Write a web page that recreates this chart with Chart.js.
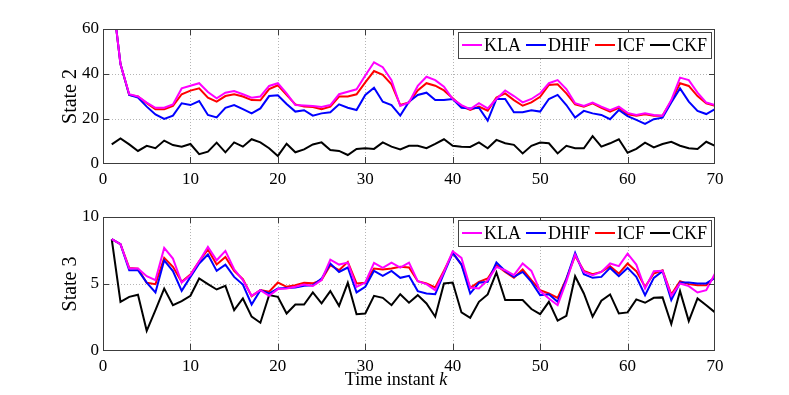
<!DOCTYPE html>
<html>
<head>
<meta charset="utf-8">
<script src="https://cdn.jsdelivr.net/npm/chart.js@4.4.1/dist/chart.umd.min.js"></script>
<style>
  html, body { margin: 0; padding: 0; background: #fff; }
  #wrap { position: relative; width: 789px; height: 395px; overflow: hidden; }
  #c1 { position: absolute; left: 0; top: 0; }
  #c2 { position: absolute; left: 0; top: 197px; }
</style>
</head>
<body>
<div id="wrap">
  <canvas id="c1" width="789" height="197"></canvas>
  <canvas id="c2" width="789" height="198"></canvas>
</div>
<script>
// ---------- data ----------
const timeInstants = Array.from({length: 70}, (_, i) => i + 1);
const seriesNames = ['KLA', 'DHIF', 'ICF', 'CKF'];
const xTicks = [0, 10, 20, 30, 40, 50, 60, 70];
const yTicksState2 = [0, 20, 40, 60];
const yTicksState3 = [0, 5, 10];

const klaState2 = [77,44.4,31,30,27.3,25,25,26.5,33.6,34.8,35.9,32,29.2,31.7,32.4,31,29.5,30,34.7,35.9,
  31.4,26.2,26,25.8,25.3,26.2,31,32.1,33.2,39.3,45.2,43,37.3,25.8,27.4,34.7,38.8,37.3,34.4,28.9,
  26.2,24.4,27,24.7,28.9,32.7,30.2,27.4,28.9,31.4,35.9,37.3,33.3,27,25.8,27.3,25.5,23.9,25.5,22.7,
  21.8,22.5,21.8,21.5,28.4,38.4,37.3,31.7,27.3,26.2];
const dhifState2 = [77,44.4,30.7,29.5,25.5,22,20,21.5,27,26.2,28,21.8,20.7,25,26.2,24.4,22.5,24.7,30.2,30.5,
  26.7,23.3,23.9,21.5,22.5,23,26.5,25,24,30.7,33.9,27.7,26.2,21.5,27.7,30.7,31.7,28.4,28.4,28.9,
  25,24.7,25,19.3,28.9,28.9,23,23,23.9,23.3,28.9,30.7,26.2,20.6,23.6,22.5,21.8,19.9,24,21.3,
  19.6,17.8,19.9,20.6,27.3,33.6,27.7,23.6,22.2,24.4];
const icfState2 = [77,44.4,30.7,30,27,24.3,24.3,25.8,31,32.6,33.6,29.5,27.7,30.2,31,30,28.4,28.3,33.3,35,
  30.7,26.5,25.5,25.3,24.4,25.5,30,30,31,36.3,41.3,39.6,35.4,26.2,27.4,32.7,35.9,34.8,32.7,29.2,
  25.8,24,25.5,23.7,29.5,31.4,28.4,25.9,27.4,29.9,35.1,35.4,31.4,26.5,25.5,27,25,23.3,25,22.1,
  21.5,22.1,21.5,21.5,28,35.9,34.7,30.2,27,25.9];
const ckfState2 = [8.7,11.4,8.7,5.8,8.1,7,10.4,8.4,7.7,8.9,4.4,5.5,9.5,5.2,9.6,7.7,11,9.6,7,3.6,
  9,5.2,6.5,8.7,9.6,6.2,5.8,4,6.7,7,6.7,9.6,7.7,6.5,8.1,8.1,7,8.9,11,8.1,
  7.7,7.6,9.6,7,10.7,9.2,8.5,4.7,8.1,9.5,9.2,4.7,8.1,7,7,12.4,7.7,9.2,11,5,
  6.7,9.5,7.4,8.9,9.9,8.1,7,6.7,9.9,8.1];

const klaState3 = [8.34,7.97,6.15,6.15,5.58,5.29,7.69,6.9,5.11,5.66,6.7,7.77,6.77,7.47,6.1,5.29,4.12,4.54,4.12,4.62,
  4.66,4.79,4.96,4.85,5.3,6.82,6.45,6.6,4.79,5.11,6.58,6.2,6.6,6.23,6.6,5.21,4.99,4.54,5.9,7.44,
  6.95,4.74,4.66,5.29,6.28,6.03,5.66,6.53,5.98,4.47,3.92,3.42,5.2,7.2,5.9,5.66,5.9,6.53,6.33,7.27,
  6.45,4.66,5.96,5.98,4.12,5.04,4.84,4.37,4.54,5.78];
const dhifState3 = [8.34,7.97,6.03,6.03,5.1,4.37,6.77,5.96,4.49,5.53,6.53,7.2,5.98,6.45,5.53,4.96,3.47,4.54,4.29,4.66,
  4.71,4.74,4.86,4.9,5.4,6.53,5.9,6.23,4.37,4.79,5.98,5.61,5.98,5.46,5.61,4.47,4.29,4.24,5.8,7.32,
  6.45,4.29,5.09,5.16,6.6,5.98,5.53,5.9,5.16,4.17,4.24,3.67,5.36,7.32,5.73,5.46,5.53,6.2,5.58,6.2,
  5.53,4.17,5.46,5.96,3.8,5.11,5.11,5.04,5.04,5.46];
const icfState3 = [8.34,7.97,6.2,6.15,5.09,4.99,6.95,6.28,5.16,5.71,6.7,7.57,6.45,7.02,5.98,5.36,4.09,4.54,4.42,5.11,
  4.79,4.91,5.09,5.05,5.3,6.4,6.03,6.65,5.04,5.09,6.15,6.08,6.15,6.28,6.23,5.21,5.04,4.74,6.0,7.32,
  6.45,4.71,5.16,5.41,6.4,5.9,5.46,6.08,5.29,4.54,4.29,3.97,5.4,7.1,5.98,5.73,5.9,6.33,5.78,6.53,
  5.96,4.79,5.78,6.03,4.22,5.21,4.99,4.91,4.91,5.53];
const ckfState3 = [8.34,3.67,4.04,4.2,1.51,3.05,4.66,3.42,3.72,4.12,5.41,4.99,4.59,4.86,3.05,3.92,2.56,2.11,4.17,4.04,
  2.8,3.47,3.47,4.37,3.55,4.47,3.37,5.09,2.75,2.8,4.12,3.97,3.42,4.24,3.6,4.17,3.55,2.56,5.04,5.11,
  2.88,2.48,3.67,4.22,5.86,3.8,3.8,3.8,3.13,2.75,3.67,2.26,2.63,5.58,4.29,2.56,3.75,4.22,2.8,2.88,
  3.85,3.6,3.97,4,2.01,4.47,2.23,3.92,3.42,2.88];

// ---------- styling ----------
const COLORS = ['#ff00ff', '#0000ff', '#ff0000', '#000000'];
const SERIF = "'Liberation Serif', 'DejaVu Serif', serif";
const AXIS_COLOR = '#3c3c3c';
const GRID_COLOR = '#b4b4b4';

function toPoints(vals) { return vals.map((v, i) => ({x: timeInstants[i], y: v})); }

function makeDatasets(arrs) {
  return arrs.map((a, i) => ({
    label: seriesNames[i],
    data: toPoints(a),
    borderColor: COLORS[i],
    backgroundColor: COLORS[i],
    borderWidth: 2,
    pointRadius: 0,
    tension: 0,
    fill: false
  }));
}

const framePlugin = {
  id: 'frame',
  beforeDatasetsDraw(chart, args, opts) {
    const ctx = chart.ctx;
    const a = chart.chartArea;
    const xs = chart.scales.x, ys = chart.scales.y;
    const L = Math.round(a.left), R = Math.round(a.right) - 1;
    const T = Math.round(a.top), B = Math.round(a.bottom) - 1;
    ctx.save();
    ctx.fillStyle = GRID_COLOR;
    xTicks.forEach(v => {
      const px = Math.round(xs.getPixelForValue(v));
      if (px <= L || px >= R) return;
      for (let yy = T; yy <= B; yy += 3) ctx.fillRect(px, yy, 1, 1);
    });
    (opts.yTicks || []).forEach(v => {
      const py = Math.round(ys.getPixelForValue(v));
      if (py <= T || py >= B) return;
      for (let xx = L; xx <= R; xx += 3) ctx.fillRect(xx, py, 1, 1);
    });
    ctx.restore();
  },
  afterDraw(chart, args, opts) {
    const ctx = chart.ctx;
    const a = chart.chartArea;
    const xs = chart.scales.x, ys = chart.scales.y;
    ctx.save();
    ctx.globalAlpha = 1;
    ctx.fillStyle = AXIS_COLOR;
    const L = Math.round(a.left), R = Math.round(a.right) - 1;
    const T = Math.round(a.top), B = Math.round(a.bottom) - 1;
    // box
    ctx.fillRect(L, T, R - L + 1, 1);
    ctx.fillRect(L, B, R - L + 1, 1);
    ctx.fillRect(L, T, 1, B - T + 1);
    ctx.fillRect(R, T, 1, B - T + 1);
    // inward ticks
    const tl = 6;
    xTicks.forEach(v => {
      const px = Math.round(xs.getPixelForValue(v));
      const pxc = Math.min(Math.max(px, L), R);
      ctx.fillRect(pxc, B - tl, 1, tl);
      ctx.fillRect(pxc, T, 1, tl);
    });
    (opts.yTicks || []).forEach(v => {
      const py = Math.round(ys.getPixelForValue(v));
      const pyc = Math.min(Math.max(py, T), B);
      ctx.fillRect(L, pyc, tl, 1);
      ctx.fillRect(R - tl + 1, pyc, tl, 1);
    });

    // y-axis title
    ctx.fillStyle = '#000';
    ctx.font = '20px ' + SERIF;
    ctx.textAlign = 'center';
    ctx.textBaseline = 'middle';
    ctx.save();
    ctx.translate(71, (a.top + a.bottom) / 2);
    ctx.rotate(-Math.PI / 2);
    ctx.fillText(opts.yTitle, 0, 0);
    ctx.restore();

    // x-axis title (bottom chart only)
    if (opts.xTitle) {
      const part1 = 'Time instant ';
      const fontN = '18px ' + SERIF, fontI = 'italic 18px ' + SERIF;
      ctx.font = fontN; const w1 = ctx.measureText(part1).width;
      ctx.font = fontI; const w2 = ctx.measureText('k').width;
      const cx = (a.left + a.right) / 2 - 13;
      const x0 = cx - (w1 + w2) / 2;
      ctx.textAlign = 'left';
      ctx.textBaseline = 'alphabetic';
      ctx.fillStyle = '#000';
      ctx.font = fontN; ctx.fillText(part1, x0, chart.height - 10);
      ctx.font = fontI; ctx.fillText('k', x0 + w1, chart.height - 10);
    }

    // legend (inside, top-right)
    ctx.font = '18px ' + SERIF;
    const lineLen = 20, gapLT = 2, gapEntry = 5, padL = 4, padR = 4;
    const widths = seriesNames.map(n => ctx.measureText(n).width);
    let total = padL + padR;
    widths.forEach((w, i) => { total += lineLen + gapLT + w + (i < widths.length - 1 ? gapEntry : 0); });
    total = Math.round(total);
    const boxRight = R - 3, boxTop = T + 3, boxH = 26;
    const boxLeft = boxRight - total;
    ctx.fillStyle = '#fff';
    ctx.fillRect(boxLeft, boxTop, total, boxH);
    ctx.fillStyle = '#444';
    ctx.fillRect(boxLeft, boxTop, total + 1, 1);
    ctx.fillRect(boxLeft, boxTop + boxH, total + 1, 1);
    ctx.fillRect(boxLeft, boxTop, 1, boxH + 1);
    ctx.fillRect(boxRight, boxTop, 1, boxH + 1);
    let cx = boxLeft + padL;
    const cy = boxTop + Math.round(boxH / 2);
    seriesNames.forEach((n, i) => {
      ctx.fillStyle = COLORS[i];
      ctx.fillRect(Math.round(cx), cy - 1, lineLen, 2);
      cx += lineLen + gapLT;
      ctx.fillStyle = '#000';
      ctx.textAlign = 'left';
      ctx.textBaseline = 'middle';
      ctx.fillText(n, cx, cy + 1);
      cx += widths[i] + gapEntry;
    });
    ctx.restore();
  }
};

function makeChart(canvasId, arrs, yMax, yStep, yTicks, yTitle, xTitle, padTop, xAxisH) {
  return new Chart(document.getElementById(canvasId), {
    type: 'line',
    data: { datasets: makeDatasets(arrs) },
    plugins: [framePlugin],
    options: {
      responsive: false,
      animation: false,
      layout: { padding: { left: 0, right: 74, top: padTop, bottom: 0 } },
      plugins: {
        legend: { display: false },
        tooltip: { enabled: false },
        frame: { yTicks: yTicks, yTitle: yTitle, xTitle: xTitle }
      },
      scales: {
        x: {
          type: 'linear', min: 0, max: 70,
          grid: { display: false, drawTicks: false },
          border: { display: false },
          ticks: { stepSize: 10, color: '#000', font: { family: SERIF, size: 17 }, padding: 5, maxRotation: 0 },
          afterFit(s) { s.height = xAxisH; }
        },
        y: {
          type: 'linear', min: 0, max: yMax,
          grid: { display: false, drawTicks: false },
          border: { display: false },
          ticks: { stepSize: yStep, color: '#000', font: { family: SERIF, size: 17 }, padding: 4 },
          afterFit(s) { s.width = 103; }
        }
      }
    }
  });
}

makeChart('c1', [klaState2, dhifState2, icfState2, ckfState2], 60, 20, yTicksState2, 'State 2', null, 29, 33);
makeChart('c2', [klaState3, dhifState3, icfState3, ckfState3], 10, 5, yTicksState3, 'State 3', true, 20, 44);
</script>
</body>
</html>
